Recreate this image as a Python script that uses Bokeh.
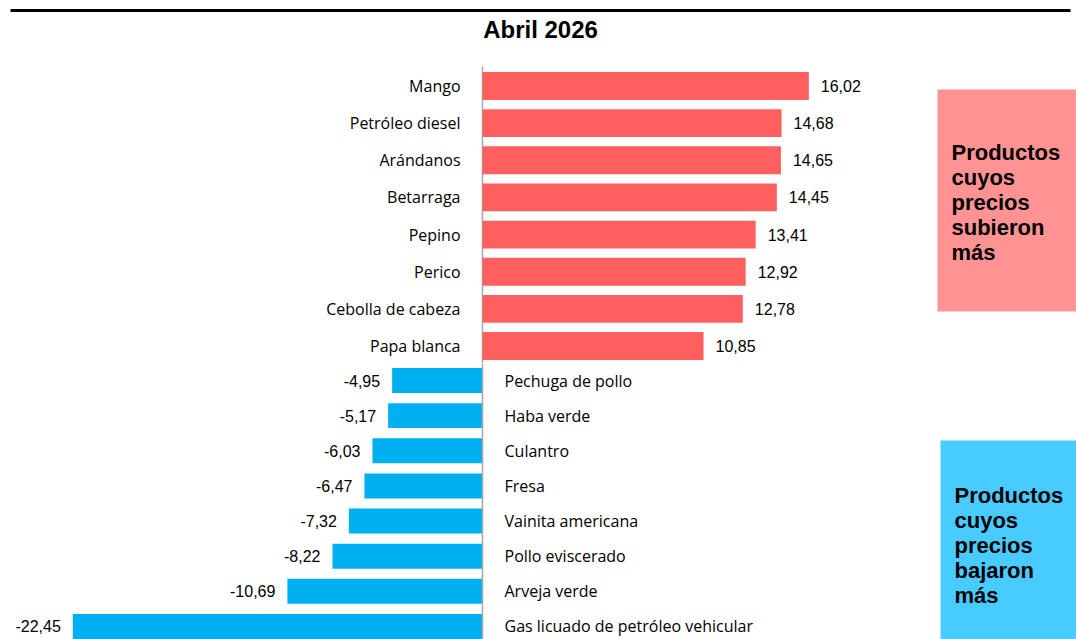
from bokeh.plotting import figure
from bokeh.models import Range1d, BoxAnnotation, Label, Span, ColumnDataSource
from bokeh.layouts import column
from bokeh.embed import file_html
from bokeh.resources import INLINE
from bokeh.core.properties import value

# ---------------- data ----------------
up_products = ["Mango", "Petróleo diesel", "Arándanos", "Betarraga", "Pepino",
               "Perico", "Cebolla de cabeza", "Papa blanca"]
up_values = [16.02, 14.68, 14.65, 14.45, 13.41, 12.92, 12.78, 10.85]

down_products = ["Pechuga de pollo", "Haba verde", "Culantro", "Fresa",
                 "Vainita americana", "Pollo eviscerado", "Arveja verde",
                 "Gas licuado de petróleo vehicular"]
down_values = [-4.95, -5.17, -6.03, -6.47, -7.32, -8.22, -10.69, -22.45]

title_text = "Abril 2026"
up_box_text = "Productos\ncuyos\nprecios\nsubieron\nmás"
down_box_text = "Productos\ncuyos\nprecios\nbajaron\nmás"


def fmt(v):
    return f"{v:.2f}".replace(".", ",")


RED = "#FF5F5F"
BLUE = "#00B0F0"
PINK_BOX = "#FF9393"
BLUE_BOX = "#48CCFF"
AXIS_GREY = "#A6A6A6"
CAT_FONT = value("Open Sans")
VAL_FONT = value("Liberation Sans")

W = 1076
H_TOP = 363
H_BOT = 276
AX = 482  # pixel position of the zero line


def base_fig(height, xr, yr):
    p = figure(width=W, height=height, x_range=xr, y_range=yr,
               toolbar_location=None, output_backend="svg",
               x_axis_location=None, y_axis_location=None, min_border=0)
    p.outline_line_color = None
    p.xgrid.grid_line_color = None
    p.ygrid.grid_line_color = None
    p.background_fill_color = "white"
    p.border_fill_color = "white"
    return p


# ---------------- top chart (rises) ----------------
top_scale = 20.37  # px per unit
top_row = 37.14    # px per row
top_x0 = -AX / top_scale
top_x1 = (W - AX) / top_scale
top_ytop = -85.5 / top_row
top_ybot = top_ytop + H_TOP / top_row


def tx(px):
    return (px - AX) / top_scale


def ty(py):
    return top_ytop + py / top_row


top = base_fig(H_TOP, Range1d(top_x0, top_x1), Range1d(top_ybot, top_ytop))

up_src = ColumnDataSource(dict(
    y=list(range(len(up_products))),
    v=up_values,
    name=up_products,
    label=[fmt(v) for v in up_values],
    zero=[0] * len(up_values),
))

# thick rule above the title
top.segment(x0=[tx(10)], x1=[tx(1070)], y0=[ty(10)], y1=[ty(10)],
            line_color="black", line_width=3)

# vertical zero line
top.segment(x0=[0], x1=[0], y0=[ty(66)], y1=[top_ybot],
            line_color=AXIS_GREY, line_width=1.5)

top.hbar(y="y", left=0, right="v", height=0.75, source=up_src,
         fill_color=RED, line_color=None)

top.text(x="v", y="y", text="label", source=up_src, x_offset=12,
         text_font=VAL_FONT, text_font_size="16px", text_align="left",
         text_baseline="middle", text_color="black")
top.text(x="zero", y="y", text="name", source=up_src, x_offset=-22,
         text_font=CAT_FONT, text_font_size="16px", text_align="right",
         text_baseline="middle", text_color="black")

top.add_layout(Label(x=tx(540), y=ty(29),
                     text=title_text, text_font="Liberation Sans",
                     text_font_style="bold", text_font_size="24px",
                     text_align="center", text_baseline="middle",
                     text_color="black"))

top.add_layout(BoxAnnotation(left=tx(937), right=top_x1,
                             top=ty(89), bottom=ty(311),
                             fill_color=PINK_BOX, fill_alpha=1.0,
                             line_color=None, level="underlay"))
top.add_layout(Label(x=tx(951), y=ty(202),
                     text=up_box_text, text_font="Liberation Sans",
                     text_font_style="bold", text_font_size="22px",
                     text_align="left", text_baseline="middle",
                     text_line_height=1.0, text_color="black"))

# ---------------- bottom chart (falls) ----------------
bot_scale = 18.25
bot_row = 35.14
bot_x0 = -AX / bot_scale
bot_x1 = (W - AX) / bot_scale
bot_ytop = -17 / bot_row
bot_ybot = bot_ytop + H_BOT / bot_row


def bx(px):
    return (px - AX) / bot_scale


def by(py):  # page y -> data y (bottom chart starts at page y = H_TOP)
    return bot_ytop + (py - H_TOP) / bot_row


bot = base_fig(H_BOT, Range1d(bot_x0, bot_x1), Range1d(bot_ybot, bot_ytop))

down_src = ColumnDataSource(dict(
    y=list(range(len(down_products))),
    v=down_values,
    name=down_products,
    label=[fmt(v) for v in down_values],
    zero=[0] * len(down_values),
))

bot.add_layout(Span(location=0, dimension="height", line_color=AXIS_GREY,
                    line_width=1.5))

bot.hbar(y="y", left="v", right=0, height=0.71, source=down_src,
         fill_color=BLUE, line_color=None)

bot.text(x="v", y="y", text="label", source=down_src, x_offset=-12,
         text_font=VAL_FONT, text_font_size="16px", text_align="right",
         text_baseline="middle", text_color="black")
bot.text(x="zero", y="y", text="name", source=down_src, x_offset=22,
         text_font=CAT_FONT, text_font_size="16px", text_align="left",
         text_baseline="middle", text_color="black")

bot.add_layout(BoxAnnotation(left=bx(940), right=bot_x1,
                             top=by(440), bottom=bot_ybot,
                             fill_color=BLUE_BOX, fill_alpha=1.0,
                             line_color=None, level="underlay"))
bot.add_layout(Label(x=bx(954), y=by(545),
                     text=down_box_text, text_font="Liberation Sans",
                     text_font_style="bold", text_font_size="22px",
                     text_align="left", text_baseline="middle",
                     text_line_height=1.0, text_color="black"))

layout = column(top, bot, spacing=0)

open("out.html", "w").write(file_html(layout, INLINE))
